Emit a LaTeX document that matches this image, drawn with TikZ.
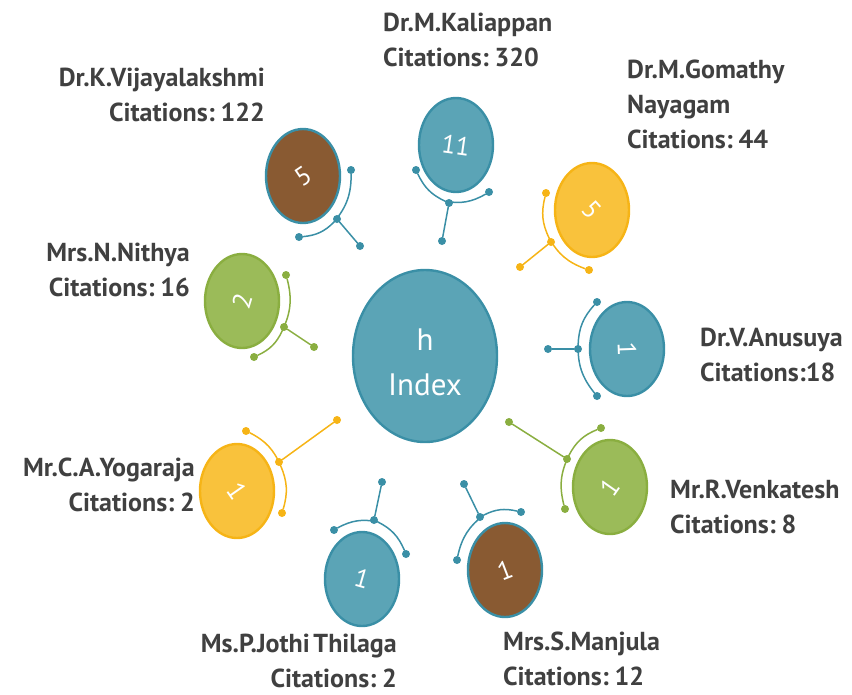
\documentclass[tikz,border=0pt]{standalone}
\usepackage{fontspec}
\setmainfont{PT Sans}[WordSpace=0.55]
\usetikzlibrary{shapes.geometric}

\definecolor{tealfill}{RGB}{91,164,182}
\definecolor{tealline}{RGB}{58,143,166}
\definecolor{brownfill}{RGB}{137,90,50}
\definecolor{yellowfill}{RGB}{249,194,60}
\definecolor{yellowline}{RGB}{246,180,22}
\definecolor{greenfill}{RGB}{155,187,89}
\definecolor{greenline}{RGB}{138,174,64}
\definecolor{labelgray}{RGB}{64,64,64}

\begin{document}
\begin{tikzpicture}[x=1pt,y=-1pt]
\tikzset{
  bubble/.style={ellipse,line width=2.4pt,minimum width=74pt,minimum height=94pt,inner sep=0pt},
  tealbubble/.style={bubble,draw=tealline,fill=tealfill},
  brownbubble/.style={bubble,draw=tealline,fill=brownfill},
  yellowbubble/.style={bubble,draw=yellowline,fill=yellowfill},
  greenbubble/.style={bubble,draw=greenline,fill=greenfill},
  digit/.style={text=white,inner sep=0pt,font=\fontsize{26}{28}\selectfont},
  dot/.style={circle,inner sep=0pt,minimum size=8pt},
  link/.style={line width=1.5pt,line cap=round},
  namelabel/.style={inner sep=0pt,text=labelgray,font=\bfseries\fontsize{26}{35}\selectfont}
}
\useasboundingbox (0,0) rectangle (852,694);

% centre
\node[bubble,draw=tealline,fill=tealfill,minimum width=144pt,minimum height=172pt] (n_h) at (425,356) {};
\node[text=white,align=center,font=\fontsize{31}{45}\selectfont] (t_h) at (425,362) {h\\Index};

% bubbles
\node[brownbubble] (n_vij) at (303,176) {};
\node[tealbubble] (n_kal) at (456,145) {};
\node[yellowbubble] (n_gom) at (592,210) {};
\node[tealbubble] (n_anu) at (627,349) {};
\node[greenbubble] (n_ven) at (610,487) {};
\node[brownbubble] (n_man) at (505,570) {};
\node[tealbubble] (n_jot) at (362,579) {};
\node[yellowbubble] (n_yog) at (237,491) {};
\node[greenbubble] (n_nit) at (242,301) {};

\node[digit,rotate=34] (d_vij) at (n_vij) {5};
\node[digit,rotate=-8] (d_kal) at (n_kal) {11};
\node[digit,rotate=-48] (d_gom) at (n_gom) {5};
\node[digit,rotate=-88] (d_anu) at (n_anu) {1};
\node[digit,rotate=55] (d_ven) at (n_ven) {1};
\node[digit,rotate=21] (d_man) at (n_man) {1};
\node[digit,rotate=-16] (d_jot) at (n_jot) {1};
\node[digit,rotate=-55] (d_yog) at (n_yog) {1};
\node[digit,rotate=73] (d_nit) at (n_nit) {2};

% connector dots
\node[dot,fill=tealline] (a_vij) at (299,237) {};
\node[dot,fill=tealline] (m_vij) at (337,219) {};
\node[dot,fill=tealline] (b_vij) at (351,170) {};
\node[dot,fill=tealline] (s_vij) at (360,246) {};

\node[dot,fill=tealline] (a_kal) at (416,170) {};
\node[dot,fill=tealline] (m_kal) at (449,203) {};
\node[dot,fill=tealline] (b_kal) at (489,192) {};
\node[dot,fill=tealline] (s_kal) at (442,241) {};

\node[dot,fill=yellowline] (a_gom) at (546,193) {};
\node[dot,fill=yellowline] (m_gom) at (551,242) {};
\node[dot,fill=yellowline] (b_gom) at (589,270) {};
\node[dot,fill=yellowline] (s_gom) at (520,267) {};

\node[dot,fill=tealline] (a_anu) at (597,302) {};
\node[dot,fill=tealline] (m_anu) at (578,349) {};
\node[dot,fill=tealline] (b_anu) at (597,396) {};
\node[dot,fill=tealline] (s_anu) at (548,349) {};

\node[dot,fill=greenline] (a_ven) at (601,428) {};
\node[dot,fill=greenline] (m_ven) at (567,459) {};
\node[dot,fill=greenline] (b_ven) at (565,509) {};
\node[dot,fill=greenline] (s_ven) at (509,422) {};

\node[dot,fill=tealline] (a_man) at (521,512) {};
\node[dot,fill=tealline] (m_man) at (480,517) {};
\node[dot,fill=tealline] (b_man) at (457,560) {};
\node[dot,fill=tealline] (s_man) at (464,484) {};

\node[dot,fill=tealline] (a_jot) at (406,554) {};
\node[dot,fill=tealline] (m_jot) at (374,520) {};
\node[dot,fill=tealline] (b_jot) at (334,530) {};
\node[dot,fill=tealline] (s_jot) at (382,482) {};

\node[dot,fill=yellowline] (a_yog) at (282,513) {};
\node[dot,fill=yellowline] (m_yog) at (279,462) {};
\node[dot,fill=yellowline] (b_yog) at (246,431) {};
\node[dot,fill=yellowline] (s_yog) at (337,420) {};

\node[dot,fill=greenline] (a_nit) at (254,357) {};
\node[dot,fill=greenline] (m_nit) at (284,327) {};
\node[dot,fill=greenline] (b_nit) at (286,275) {};
\node[dot,fill=greenline] (s_nit) at (314,347) {};

% connectors
\draw[link,tealline] (a_vij) to[bend right=20] (m_vij) to[bend right=20] (b_vij);
\draw[link,tealline] (m_vij) -- (s_vij);
\draw[link,tealline] (a_kal) to[bend right=20] (m_kal) to[bend right=20] (b_kal);
\draw[link,tealline] (m_kal) -- (s_kal);
\draw[link,yellowline] (a_gom) to[bend right=20] (m_gom) to[bend right=20] (b_gom);
\draw[link,yellowline] (m_gom) -- (s_gom);
\draw[link,tealline] (a_anu) to[bend right=20] (m_anu) to[bend right=20] (b_anu);
\draw[link,tealline] (m_anu) -- (s_anu);
\draw[link,greenline] (a_ven) to[bend right=20] (m_ven) to[bend right=20] (b_ven);
\draw[link,greenline] (m_ven) -- (s_ven);
\draw[link,tealline] (a_man) to[bend right=20] (m_man) to[bend right=20] (b_man);
\draw[link,tealline] (m_man) -- (s_man);
\draw[link,tealline] (a_jot) to[bend right=20] (m_jot) to[bend right=20] (b_jot);
\draw[link,tealline] (m_jot) -- (s_jot);
\draw[link,yellowline] (a_yog) to[bend right=20] (m_yog) to[bend right=20] (b_yog);
\draw[link,yellowline] (m_yog) -- (s_yog);
\draw[link,greenline] (a_nit) to[bend right=20] (m_nit) to[bend right=20] (b_nit);
\draw[link,greenline] (m_nit) -- (s_nit);

% names
\node[namelabel,anchor=north east,align=right] (t_vij) at (265,68) {Dr.K.Vijayalakshmi\\Citations: 122};
\node[namelabel,anchor=north west,align=left] (t_kal) at (383,13) {Dr.M.Kaliappan\\Citations: 320};
\node[namelabel,anchor=north west,align=left] (t_gom) at (627,60) {Dr.M.Gomathy\\Nayagam\\Citations: 44};
\node[namelabel,anchor=north west,align=left] (t_anu) at (700,328) {Dr.V.Anusuya\\Citations:18};
\node[namelabel,anchor=north west,align=left] (t_ven) at (670,480) {Mr.R.Venkatesh\\Citations: 8};
\node[namelabel,anchor=north west,align=left] (t_man) at (503,632) {Mrs.S.Manjula\\Citations: 12};
\node[namelabel,anchor=north east,align=right] (t_jot) at (397,634) {Ms.P.Jothi Thilaga\\Citations: 2};
\node[namelabel,anchor=north east,align=right] (t_yog) at (195,458) {Mr.C.A.Yogaraja\\Citations: 2};
\node[namelabel,anchor=north east,align=right] (t_nit) at (190,243) {Mrs.N.Nithya\\Citations: 16};
\end{tikzpicture}
\end{document}
